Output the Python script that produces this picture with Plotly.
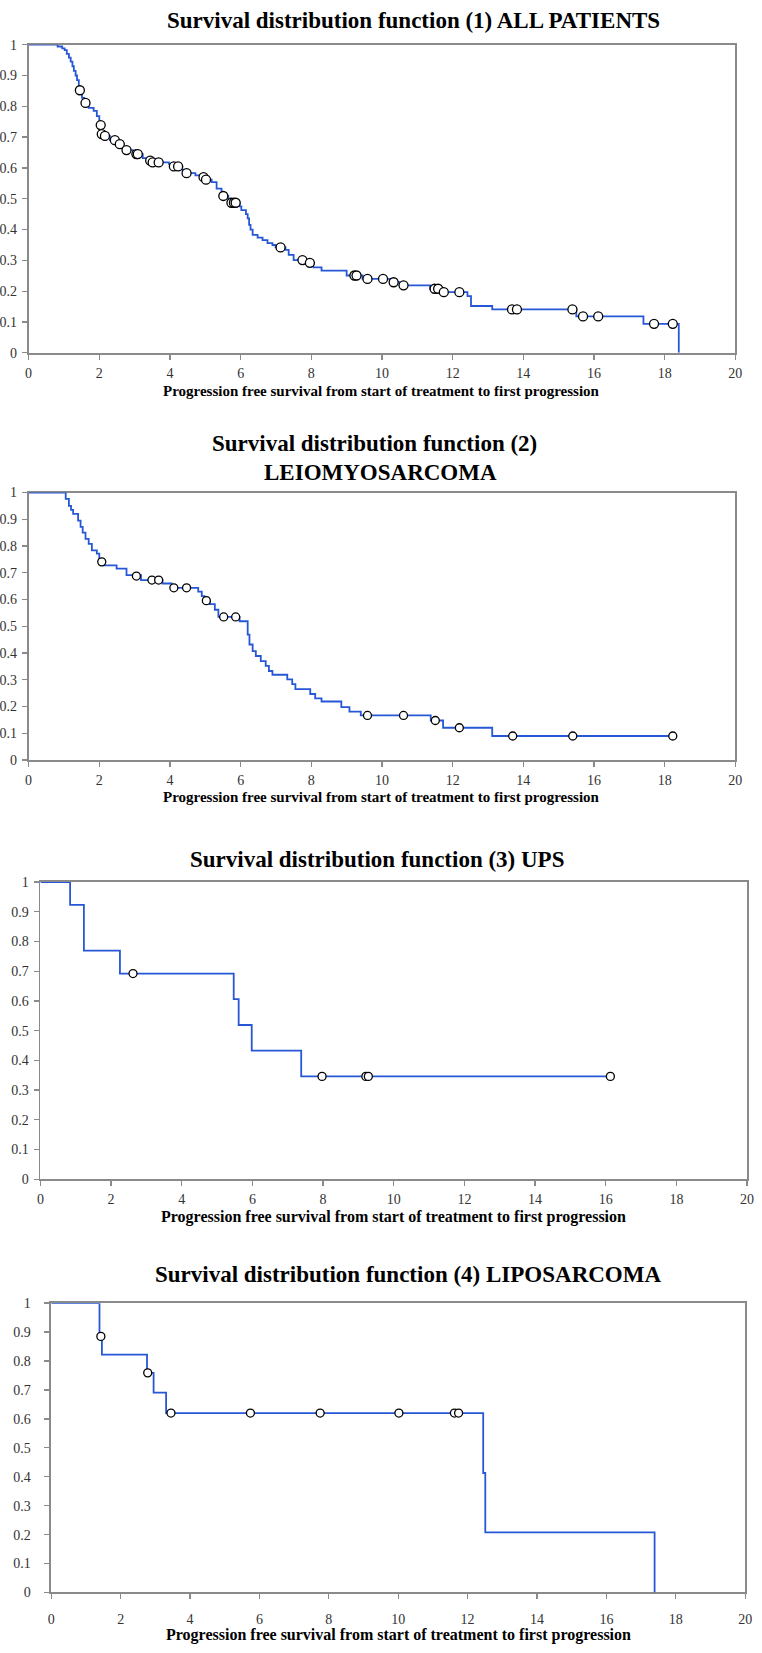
import plotly.graph_objects as go

# ---------------- DATA ----------------
X_TICKS = [0, 2, 4, 6, 8, 10, 12, 14, 16, 18, 20]
Y_TICKS = [0, 0.1, 0.2, 0.3, 0.4, 0.5, 0.6, 0.7, 0.8, 0.9, 1]
Y_TICK_TEXT = ["0", "0.1", "0.2", "0.3", "0.4", "0.5", "0.6", "0.7", "0.8", "0.9", "1"]

TITLES = [
    "Survival distribution function (1) ALL PATIENTS",
    "Survival distribution function (2)",
    "LEIOMYOSARCOMA",
    "Survival distribution function (3) UPS",
    "Survival distribution function (4) LIPOSARCOMA",
]
X_TITLE = "Progression free survival from start of treatment to first progression"

# Panel 1: ALL PATIENTS
p1_time = [0, 0.82, 0.95, 1.02, 1.08, 1.14, 1.19, 1.24, 1.28, 1.33, 1.37, 1.42, 1.51, 1.57, 1.70,
           1.84, 1.93, 2.00, 2.06, 2.12, 2.30, 2.52, 2.68, 2.95, 3.23, 3.40, 3.48, 3.97, 4.05, 4.35,
           4.42, 4.72, 4.90, 5.00, 5.18, 5.32, 5.46, 5.50, 5.65, 5.70, 5.97, 6.02, 6.15, 6.20, 6.24,
           6.28, 6.34, 6.48, 6.62, 6.76, 6.90, 6.99, 7.27, 7.36, 7.50, 7.85, 8.06, 8.29, 9.00, 9.45,
           10.25, 10.50, 11.36, 11.65, 12.42, 12.52, 13.12, 15.50, 17.40, 18.40]
p1_surv = [1.0, 0.994, 0.988, 0.982, 0.970, 0.958, 0.945, 0.930, 0.915, 0.900, 0.885, 0.852, 0.827, 0.811, 0.795,
           0.785, 0.768, 0.739, 0.710, 0.704, 0.690, 0.677, 0.658, 0.645, 0.632, 0.624, 0.618, 0.613, 0.605, 0.594,
           0.583, 0.576, 0.570, 0.562, 0.554, 0.533, 0.522, 0.509, 0.500, 0.487, 0.475, 0.463, 0.450, 0.436, 0.415,
           0.400, 0.383, 0.374, 0.366, 0.356, 0.350, 0.342, 0.334, 0.318, 0.301, 0.292, 0.277, 0.267, 0.251, 0.240,
           0.229, 0.219, 0.208, 0.197, 0.184, 0.152, 0.141, 0.118, 0.094, 0.0]
p1_cens_time = [1.45, 1.61, 2.04, 2.07, 2.16, 2.44, 2.58, 2.77, 3.05, 3.09, 3.44, 3.51, 3.68, 4.11, 4.23,
                4.47, 4.95, 5.02, 5.51, 5.74, 5.81, 5.86, 7.13, 7.75, 7.96, 9.22, 9.28, 9.59, 10.03, 10.33,
                10.61, 11.49, 11.59, 11.75, 12.19, 13.68, 13.82, 15.39, 15.69, 16.12, 17.70, 18.23]
p1_cens_surv = [0.852, 0.811, 0.739, 0.710, 0.704, 0.690, 0.677, 0.658, 0.645, 0.645, 0.624, 0.618, 0.618, 0.605, 0.605,
                0.583, 0.570, 0.562, 0.509, 0.487, 0.487, 0.487, 0.342, 0.301, 0.292, 0.251, 0.251, 0.240, 0.240, 0.229,
                0.219, 0.208, 0.208, 0.197, 0.197, 0.141, 0.141, 0.141, 0.118, 0.118, 0.094, 0.094]

# Panel 2: LEIOMYOSARCOMA
p2_time = [0, 1.05, 1.14, 1.20, 1.26, 1.40, 1.47, 1.53, 1.61, 1.70, 1.79, 1.93, 2.00, 2.12, 2.49,
           2.77, 3.18, 3.79, 4.05, 4.80, 4.90, 4.98, 5.13, 5.27, 5.37, 5.97, 6.20, 6.25, 6.34, 6.43,
           6.57, 6.71, 6.80, 6.90, 7.32, 7.46, 7.55, 7.97, 8.11, 8.29, 8.85, 9.08, 9.40, 11.38, 11.73, 13.12, 18.23]
p2_surv = [1.0, 0.976, 0.950, 0.935, 0.920, 0.895, 0.872, 0.850, 0.827, 0.808, 0.784, 0.772, 0.741, 0.728, 0.716,
           0.691, 0.673, 0.660, 0.644, 0.630, 0.613, 0.596, 0.583, 0.562, 0.535, 0.519, 0.469, 0.432, 0.407, 0.389,
           0.370, 0.352, 0.333, 0.319, 0.302, 0.284, 0.265, 0.247, 0.231, 0.219, 0.198, 0.181, 0.167, 0.148, 0.121, 0.090, 0.090]
p2_cens_time = [2.07, 3.05, 3.49, 3.68, 4.11, 4.47, 5.03, 5.52, 5.86, 9.59, 10.61, 11.51, 12.19, 13.70, 15.40, 18.23]
p2_cens_surv = [0.741, 0.688, 0.673, 0.673, 0.644, 0.644, 0.596, 0.535, 0.535, 0.167, 0.167, 0.148, 0.121, 0.090, 0.090, 0.090]

# Panel 3: UPS
p3_time = [0, 0.84, 1.23, 2.25, 5.47, 5.61, 5.98, 7.38, 16.13]
p3_surv = [1.0, 0.923, 0.769, 0.692, 0.606, 0.519, 0.433, 0.346, 0.346]
p3_cens_time = [2.62, 7.97, 9.21, 9.28, 16.13]
p3_cens_surv = [0.692, 0.346, 0.346, 0.346, 0.346]

# Panel 4: LIPOSARCOMA
p4_time = [0, 1.39, 1.46, 2.76, 2.95, 3.31, 12.45, 12.51, 17.39]
p4_surv = [1.0, 0.882, 0.822, 0.759, 0.691, 0.620, 0.413, 0.208, 0.0]
p4_cens_time = [1.43, 2.78, 3.45, 5.74, 7.75, 10.02, 11.62, 11.74]
p4_cens_surv = [0.885, 0.759, 0.620, 0.620, 0.620, 0.620, 0.620, 0.620]

# ---------------- LAYOUT / STYLE ----------------
W, H = 762, 1653
LINE_BLUE = "#2657d6"
AXIS_GRAY = "#8a8a8a"
SERIF = "Liberation Serif, Times New Roman, serif"

# plot boxes in pixels: (x0, x1, y_top, y_bottom)
boxes = [(24, 742, 38, 349), (24, 742, 490, 760), (36, 754, 883, 1183), (47, 752, 1308, 1600)]
tick_sizes = [14, 14, 14, 14]
marker_sizes = [9, 8, 8, 8]
ylab_standoff = [2, 2, 2, 11]
xlab_standoff = [2, 1, 1, 8]

series = [
    (p1_time, p1_surv, p1_cens_time, p1_cens_surv),
    (p2_time, p2_surv, p2_cens_time, p2_cens_surv),
    (p3_time, p3_surv, p3_cens_time, p3_cens_surv),
    (p4_time, p4_surv, p4_cens_time, p4_cens_surv),
]

fig = go.Figure()
layout = dict(width=W, height=H, margin=dict(l=0, r=0, t=0, b=0),
              paper_bgcolor="white", plot_bgcolor="white", showlegend=False)

for i, ((t, s, ct, cs), (x0, x1, yt, yb)) in enumerate(zip(series, boxes)):
    k = "" if i == 0 else str(i + 1)
    xa, ya = "x" + k, "y" + k
    fig.add_trace(go.Scatter(x=t, y=s, mode="lines", line=dict(color=LINE_BLUE, width=1.8, shape="hv"),
                             xaxis=xa, yaxis=ya, cliponaxis=False, hoverinfo="skip"))
    fig.add_trace(go.Scatter(x=ct, y=cs, mode="markers",
                             marker=dict(symbol="circle", size=marker_sizes[i], color="white",
                                         line=dict(color="black", width=1.3)),
                             xaxis=xa, yaxis=ya, cliponaxis=False, hoverinfo="skip"))
    common = dict(showline=True, linecolor=AXIS_GRAY, linewidth=1.8, mirror=True, showgrid=False,
                  zeroline=False, ticks="outside", ticklen=5, tickwidth=1.3, tickcolor=AXIS_GRAY,
                  tickfont=dict(family=SERIF, size=tick_sizes[i], color="#333333"), layer="below traces",
                  fixedrange=True, ticklabeloverflow="allow")
    layout["xaxis" + k] = dict(common, domain=[x0 / W, x1 / W], range=[0, 20], tickvals=X_TICKS,
                               anchor=ya, ticklabelstandoff=xlab_standoff[i])
    layout["yaxis" + k] = dict(common, domain=[1 - yb / H, 1 - yt / H], range=[0, 1], tickvals=Y_TICKS,
                               ticktext=Y_TICK_TEXT, anchor=xa, ticklabelstandoff=ylab_standoff[i])

# titles (x center px, y center px, text, size)
ann_specs = [
    (415, 14, TITLES[0], 23),
    (375, 440, TITLES[1], 23),
    (381, 470, TITLES[2], 23),
    (378, 860, TITLES[3], 23),
    (409, 1279, TITLES[4], 23),
    (383, 388, X_TITLE, 15),
    (383, 797, X_TITLE, 15),
    (395, 1221, X_TITLE, 16),
    (400, 1643, X_TITLE, 16),
]
annotations = []
for (cx, cy, txt, sz) in ann_specs:
    annotations.append(dict(text="<b>" + txt + "</b>", x=cx / W, y=1 - cy / H, xref="paper", yref="paper",
                            xanchor="center", yanchor="middle", showarrow=False,
                            font=dict(family=SERIF, size=sz, color="black")))
layout["annotations"] = annotations
fig.update_layout(**layout)

fig.write_html("out.html", config={"displayModeBar": False, "staticPlot": True},
               post_script="document.body.style.margin='0';document.body.style.overflow='hidden';")
